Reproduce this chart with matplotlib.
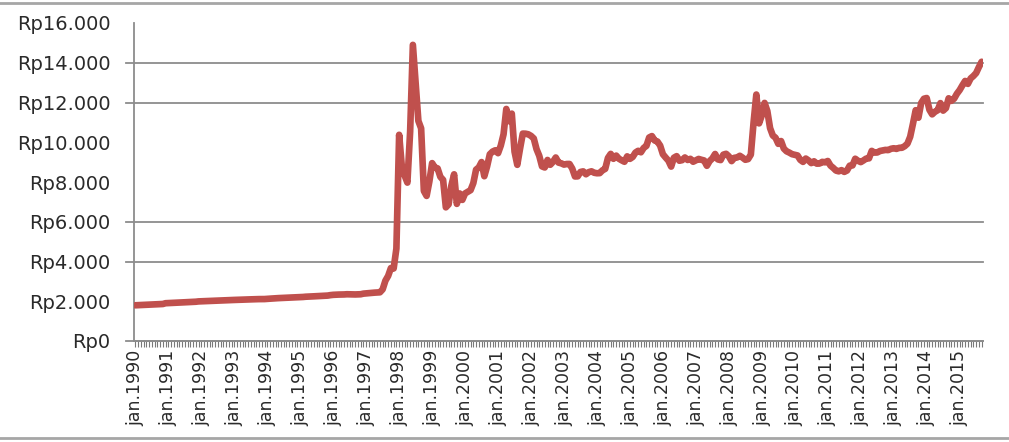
import matplotlib
matplotlib.use("Agg")
import matplotlib.pyplot as plt
import matplotlib.transforms as mtransforms
from matplotlib.lines import Line2D
import numpy as np

# Monthly Rupiah / USD rate, Jan 1990 .. Sep 2015
rate_1990 = [1797, 1803, 1809, 1815, 1822, 1828, 1835, 1842, 1849, 1855, 1862, 1901]
rate_1991 = [1907, 1914, 1920, 1927, 1934, 1941, 1948, 1955, 1962, 1969, 1976, 1992]
rate_1992 = [1998, 2004, 2010, 2016, 2023, 2029, 2035, 2041, 2048, 2054, 2060, 2062]
rate_1993 = [2066, 2070, 2075, 2080, 2085, 2090, 2095, 2100, 2104, 2108, 2109, 2110]
rate_1994 = [2118, 2130, 2140, 2150, 2157, 2163, 2170, 2178, 2183, 2189, 2195, 2200]
rate_1995 = [2207, 2215, 2228, 2233, 2241, 2248, 2255, 2262, 2270, 2278, 2285, 2308]
rate_1996 = [2323, 2330, 2336, 2337, 2342, 2352, 2347, 2341, 2342, 2349, 2352, 2383]
rate_1997 = [2396, 2405, 2419, 2433, 2441, 2450, 2599, 3035, 3275, 3670, 3648, 4650]
rate_1998 = [10375, 8750, 8325, 7970, 10525, 14900, 13000, 11075, 10700, 7550, 7300, 8025]
rate_1999 = [8950, 8730, 8685, 8260, 8105, 6726, 6875, 7810, 8386, 6900, 7425, 7100]
rate_2000 = [7425, 7505, 7590, 7945, 8620, 8735, 9003, 8290, 8780, 9395, 9530, 9595]
rate_2001 = [9450, 9835, 10400, 11675, 11058, 11440, 9525, 8865, 9675, 10435, 10430, 10400]
rate_2002 = [10320, 10190, 9655, 9316, 8785, 8730, 9108, 8867, 9015, 9233, 8976, 8940]
rate_2003 = [8876, 8905, 8908, 8675, 8279, 8285, 8505, 8535, 8389, 8495, 8537, 8465]
rate_2004 = [8441, 8447, 8587, 8661, 9210, 9415, 9168, 9328, 9170, 9090, 9018, 9290]
rate_2005 = [9165, 9260, 9480, 9570, 9495, 9713, 9819, 10240, 10310, 10090, 10035, 9830]
rate_2006 = [9395, 9230, 9075, 8775, 9220, 9300, 9070, 9100, 9235, 9110, 9165, 9020]
rate_2007 = [9090, 9160, 9118, 9083, 8815, 9054, 9186, 9410, 9137, 9103, 9376, 9419]
rate_2008 = [9291, 9051, 9217, 9234, 9318, 9225, 9118, 9153, 9378, 10995, 12400, 10950]
rate_2009 = [11355, 11980, 11575, 10713, 10340, 10225, 9920, 10060, 9681, 9545, 9480, 9400]
rate_2010 = [9365, 9335, 9115, 9012, 9180, 9083, 8952, 9041, 8924, 8928, 9013, 8991]
rate_2011 = [9057, 8823, 8709, 8574, 8537, 8597, 8508, 8578, 8823, 8835, 9170, 9068]
rate_2012 = [9000, 9085, 9180, 9190, 9565, 9480, 9485, 9560, 9588, 9615, 9605, 9670]
rate_2013 = [9698, 9667, 9719, 9722, 9802, 9929, 10278, 10924, 11613, 11234, 11977, 12189]
rate_2014 = [12226, 11634, 11404, 11532, 11611, 11969, 11591, 11717, 12212, 12082, 12196, 12440]
rate_2015 = [12625, 12863, 13084, 12937, 13211, 13332, 13481, 13781, 14050]

years = list(range(1990, 2016))
rates = (rate_1990 + rate_1991 + rate_1992 + rate_1993 + rate_1994 + rate_1995
         + rate_1996 + rate_1997 + rate_1998 + rate_1999 + rate_2000 + rate_2001
         + rate_2002 + rate_2003 + rate_2004 + rate_2005 + rate_2006 + rate_2007
         + rate_2008 + rate_2009 + rate_2010 + rate_2011 + rate_2012 + rate_2013
         + rate_2014 + rate_2015)
year_labels = [f"jan.{y}" for y in years]
y_ticks = [0, 2000, 4000, 6000, 8000, 10000, 12000, 14000, 16000]
y_labels = ["Rp0", "Rp2.000", "Rp4.000", "Rp6.000", "Rp8.000",
            "Rp10.000", "Rp12.000", "Rp14.000", "Rp16.000"]
visible_grid = [0, 4000, 6000, 12000, 14000]

GRID = "#8c8c8c"
LINE = "#c0504d"
TEXT = "#2a2a2a"

fig = plt.figure(figsize=(10.09, 4.42), dpi=100)
fig.patch.set_facecolor("white")
ax = fig.add_axes([134 / 1009, 101 / 442, 849 / 1009, 318 / 442])

x = np.arange(len(rates))
ax.set_xlim(-0.5, len(rates) - 0.5)
ax.set_ylim(0, 16000)

# gridlines (only those that survive in the reference) with tick stubs
trans = mtransforms.blended_transform_factory(ax.transAxes, ax.transData)
for g in visible_grid:
    ax.plot([-8 / 849, 1], [g, g], transform=trans, color=GRID, lw=1.3,
            clip_on=False, zorder=1)

ax.plot(x, rates, color=LINE, lw=4.8, solid_joinstyle="round",
        solid_capstyle="round", zorder=3)

for side in ("top", "right"):
    ax.spines[side].set_visible(False)
ax.spines["left"].set_color(GRID)
ax.spines["bottom"].set_color(GRID)
ax.spines["left"].set_linewidth(1.3)
ax.spines["bottom"].set_linewidth(1.3)

ax.set_yticks(y_ticks)
ax.set_yticklabels(y_labels, fontsize=14, color=TEXT, family="DejaVu Sans")
ax.tick_params(axis="y", length=0, pad=17)

ax.set_xticks(np.arange(0, len(rates), 12))
ax.set_xticklabels(year_labels, rotation=90, fontsize=12.5, color=TEXT,
                   family="DejaVu Sans")
ax.set_xticks(np.arange(len(rates)), minor=True)
ax.tick_params(axis="x", which="both", length=4.5, color="#7a7a7a", width=0.8,
               direction="out", pad=2)

# outer frame lines of the pasted chart
fig.add_artist(Line2D([0, 1], [1 - 3 / 442, 1 - 3 / 442], color="#a6a6a6", lw=2))
fig.add_artist(Line2D([0, 1], [4 / 442, 4 / 442], color="#a6a6a6", lw=2))

fig.savefig("out.png", dpi=100)
